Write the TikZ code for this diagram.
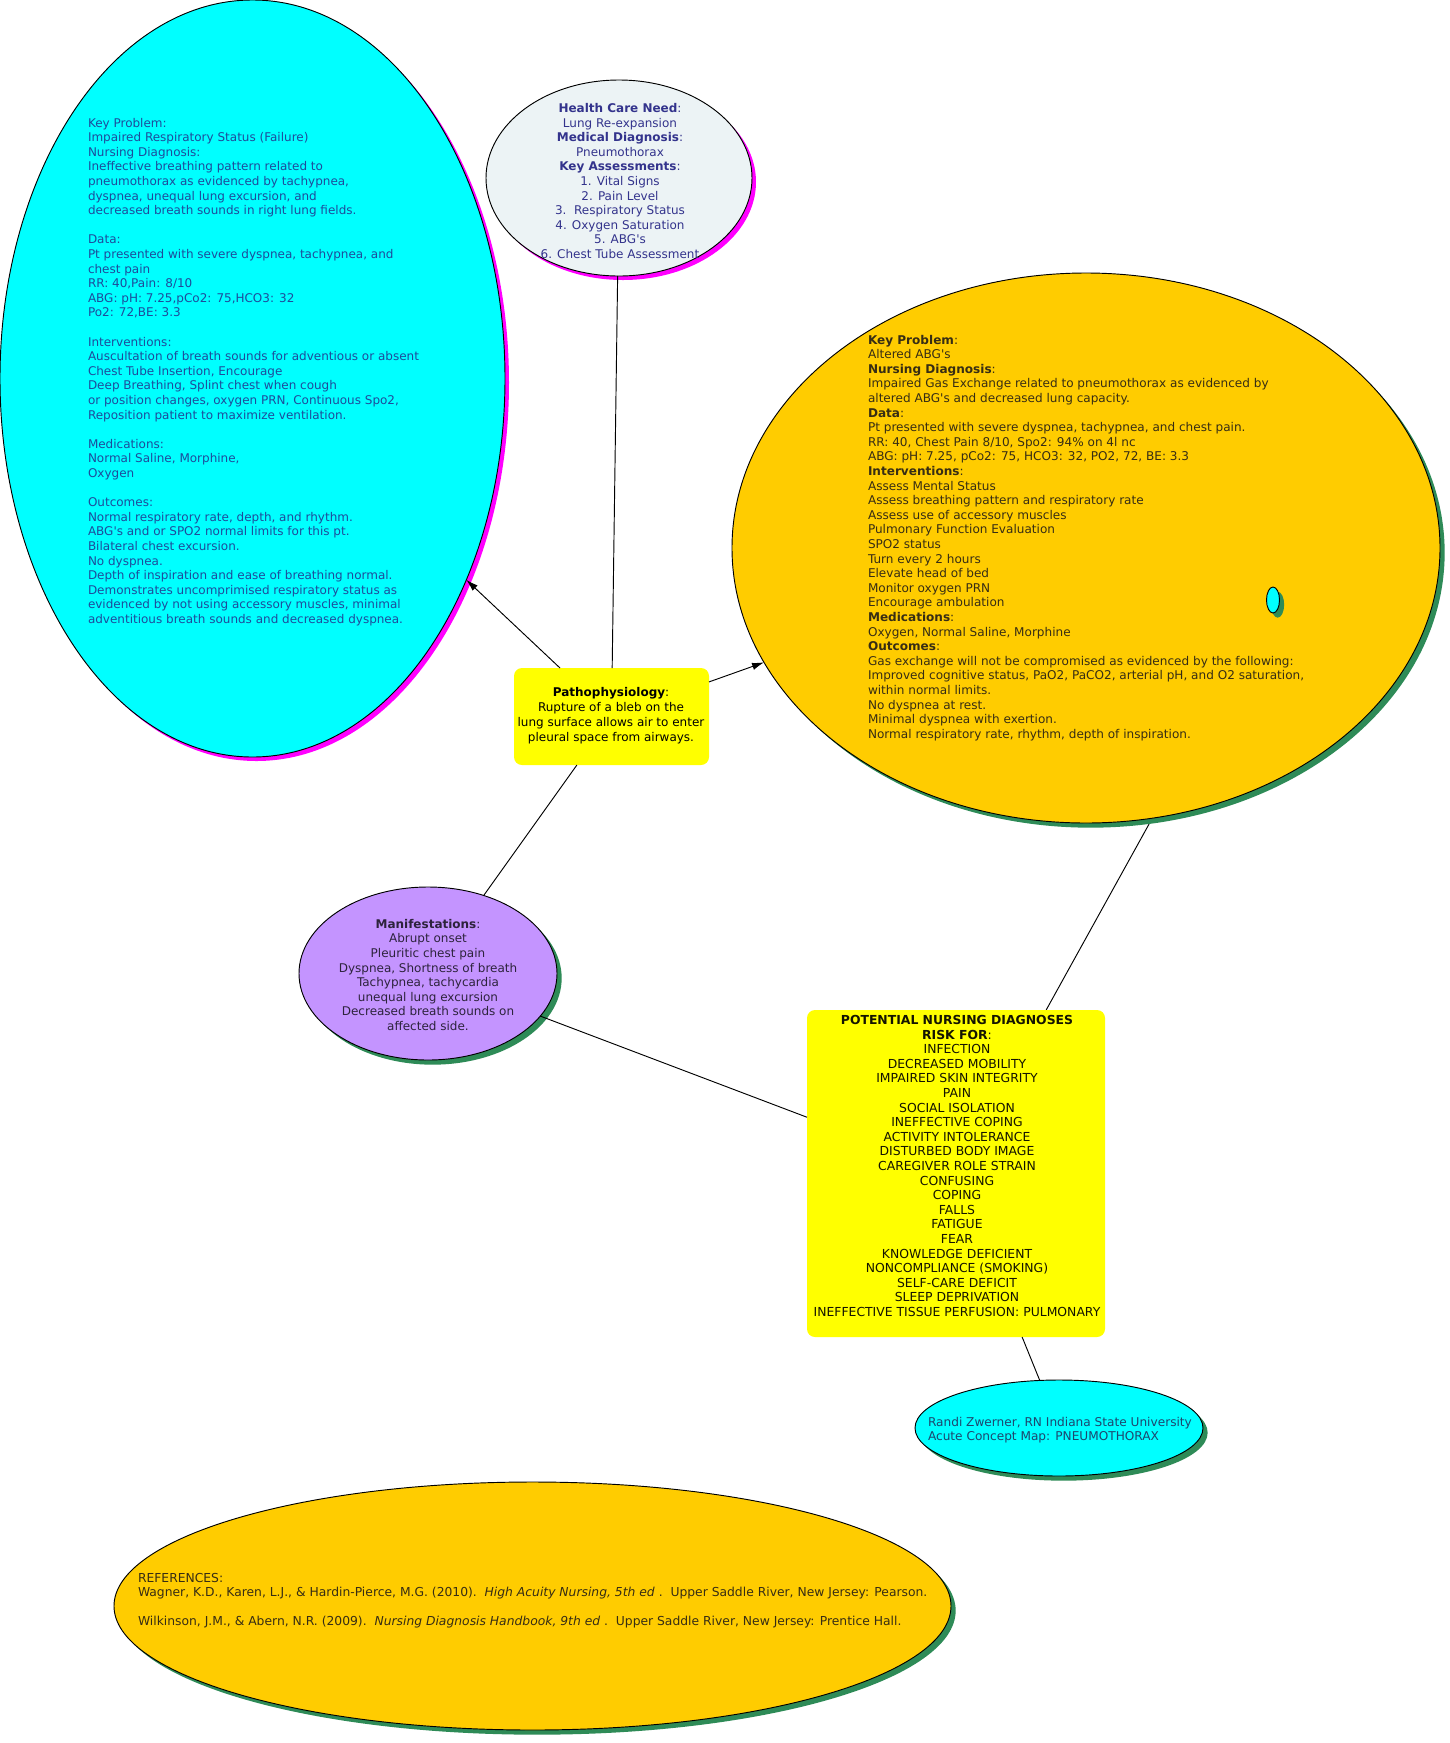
\documentclass[tikz,border=0pt]{standalone}
\usepackage{fontspec}
\newfontfamily\vfont{DejaVu Sans}
\usetikzlibrary{shapes.geometric,arrows.meta,shadows,backgrounds}

\definecolor{cyanfill}{RGB}{0,255,255}
\definecolor{hcfill}{RGB}{236,243,245}
\definecolor{orangefill}{RGB}{255,204,0}
\definecolor{purplefill}{RGB}{196,148,255}
\definecolor{yellowfill}{RGB}{255,255,0}
\definecolor{greenshadow}{RGB}{46,139,87}
\definecolor{magentafill}{RGB}{255,0,255}
\definecolor{cyantext}{RGB}{30,75,155}
\definecolor{hctext}{RGB}{51,51,140}
\definecolor{orangetext}{RGB}{55,45,20}
\definecolor{purpletext}{RGB}{45,35,60}
\definecolor{yellowtext}{RGB}{20,20,0}
\definecolor{authortext}{RGB}{30,70,110}

\pgfdeclarelayer{bottom}
\pgfsetlayers{bottom,background,main}

\tikzset{
  ell/.style={ellipse, draw=black, line width=0.7pt, inner sep=0pt, outer sep=0pt},
  rbox/.style={rectangle, rounded corners=6pt, fill=yellowfill, inner sep=0pt, outer sep=0pt},
  gshadow/.style={drop shadow={shadow xshift=3.5pt, shadow yshift=-3.5pt, fill=greenshadow, opacity=1}},
  mshadow/.style={drop shadow={shadow xshift=3pt, shadow yshift=-3pt, fill=magentafill, opacity=1}},
  txt/.style={inner sep=0pt, outer sep=0pt, font=\vfont\fontsize{9}{10.95}\selectfont},
  conn/.style={draw=black, line width=0.7pt},
  arr/.style={conn, -{Latex[length=9pt,width=5.5pt]}},
}

\begin{document}
\begin{tikzpicture}[x=0.75pt,y=-0.75pt]
\begin{pgfonlayer}{bottom}
\fill[white] (0,0) rectangle (1450,1743);
\end{pgfonlayer}
\useasboundingbox (0,0) rectangle (1450,1743);

% shapes
\node[ell, mshadow, fill=cyanfill, minimum width=505*0.75pt, minimum height=757*0.75pt] (keyprob) at (252.5,378.5) {};
\node[ell, mshadow, fill=hcfill, minimum width=266*0.75pt, minimum height=196*0.75pt] (hcn) at (619,178) {};
\node[ell, gshadow, fill=orangefill, minimum width=708*0.75pt, minimum height=550*0.75pt] (gas) at (1086,548) {};
\node[ell, gshadow, fill=cyanfill, minimum width=13*0.75pt, minimum height=26*0.75pt] (dot) at (1273,600) {};
\node[rbox, minimum width=195*0.75pt, minimum height=97*0.75pt] (patho) at (611.5,716.5) {};
\node[ell, gshadow, fill=purplefill, minimum width=258*0.75pt, minimum height=173*0.75pt] (manif) at (428,973.5) {};
\node[rbox, minimum width=298*0.75pt, minimum height=327*0.75pt] (pot) at (956,1173.5) {};
\node[ell, gshadow, fill=cyanfill, minimum width=288*0.75pt, minimum height=96*0.75pt] (author) at (1059,1428) {};
\node[ell, gshadow, fill=orangefill, minimum width=837*0.75pt, minimum height=248*0.75pt] (refs) at (532.5,1606) {};

% connectors
\begin{pgfonlayer}{background}
\draw[conn] (dot) -- (pot);
\end{pgfonlayer}
\draw[arr] (patho) -- (keyprob);
\draw[arr] (patho) -- (gas);
\draw[conn] (hcn) -- (patho);
\draw[conn] (patho) -- (manif);
\draw[conn] (manif) -- (pot);
\draw[conn] (pot) -- (author);

% texts
\node[txt, text=cyantext, anchor=north west, align=left] (keyprobtxt) at (88,118) {Key Problem:\\
Impaired Respiratory Status (Failure)\\
Nursing Diagnosis:\\
Ineffective breathing pattern related to\\
pneumothorax as evidenced by tachypnea,\\
dyspnea, unequal lung excursion, and\\
decreased breath sounds in right lung fields.\\[10.95pt]
Data:\\
Pt presented with severe dyspnea, tachypnea, and\\
chest pain\\
RR: 40,Pain: 8/10\\
ABG: pH: 7.25,pCo2: 75,HCO3: 32\\
Po2: 72,BE: 3.3\\[10.95pt]
Interventions:\\
Auscultation of breath sounds for adventious or absent\\
Chest Tube Insertion, Encourage\\
Deep Breathing, Splint chest when cough\\
or position changes, oxygen PRN, Continuous Spo2,\\
Reposition patient to maximize ventilation.\\[10.95pt]
Medications:\\
Normal Saline, Morphine,\\
Oxygen\\[10.95pt]
Outcomes:\\
Normal respiratory rate, depth, and rhythm.\\
ABG's and or SPO2 normal limits for this pt.\\
Bilateral chest excursion.\\
No dyspnea.\\
Depth of inspiration and ease of breathing normal.\\
Demonstrates uncomprimised respiratory status as\\
evidenced by not using accessory muscles, minimal\\
adventitious breath sounds and decreased dyspnea.};

\node[txt, text=hctext, align=center] (hcntxt) at (620,181) {\textbf{Health Care Need}:\\
Lung Re-expansion\\
\textbf{Medical Diagnosis}:\\
Pneumothorax\\
\textbf{Key Assessments}:\\
1. Vital Signs\\
2. Pain Level\\
3.\ \ Respiratory Status\\
4. Oxygen Saturation\\
5. ABG's\\
6. Chest Tube Assessment};

\node[txt, text=orangetext, anchor=north west, align=left, font=\vfont\fontsize{9.05}{10.95}\selectfont] (gastxt) at (868,335) {\textbf{Key Problem}:\\
Altered ABG's\\
\textbf{Nursing Diagnosis}:\\
Impaired Gas Exchange related to pneumothorax as evidenced by\\
altered ABG's and decreased lung capacity.\\
\textbf{Data}:\\
Pt presented with severe dyspnea, tachypnea, and chest pain.\\
RR: 40, Chest Pain 8/10, Spo2: 94\% on 4l nc\\
ABG: pH: 7.25, pCo2: 75, HCO3: 32, PO2, 72, BE: 3.3\\
\textbf{Interventions}:\\
Assess Mental Status\\
Assess breathing pattern and respiratory rate\\
Assess use of accessory muscles\\
Pulmonary Function Evaluation\\
SPO2 status\\
Turn every 2 hours\\
Elevate head of bed\\
Monitor oxygen PRN\\
Encourage ambulation\\
\textbf{Medications}:\\
Oxygen, Normal Saline, Morphine\\
\textbf{Outcomes}:\\
Gas exchange will not be compromised as evidenced by the following:\\
Improved cognitive status, PaO2, PaCO2, arterial pH, and O2 saturation,\\
within normal limits.\\
No dyspnea at rest.\\
Minimal dyspnea with exertion.\\
Normal respiratory rate, rhythm, depth of inspiration.};

\node[txt, text=black, align=center, font=\vfont\fontsize{9}{11.25}\selectfont] (pathotxt) at (611,716) {\textbf{Pathophysiology}:\\
Rupture of a bleb on the\\
lung surface allows air to enter\\
pleural space from airways.};

\node[txt, text=purpletext, align=center] (maniftxt) at (428,975) {\textbf{Manifestations}:\\
Abrupt onset\\
Pleuritic chest pain\\
Dyspnea, Shortness of breath\\
Tachypnea, tachycardia\\
unequal lung excursion\\
Decreased breath sounds on\\
affected side.};

\node[txt, text=yellowtext, align=center, font=\vfont\fontsize{9.3}{10.95}\selectfont] (pottxt) at (957,1166) {\textbf{POTENTIAL NURSING DIAGNOSES}\\
\textbf{RISK FOR}:\\
INFECTION\\
DECREASED MOBILITY\\
IMPAIRED SKIN INTEGRITY\\
PAIN\\
SOCIAL ISOLATION\\
INEFFECTIVE COPING\\
ACTIVITY INTOLERANCE\\
DISTURBED BODY IMAGE\\
CAREGIVER ROLE STRAIN\\
CONFUSING\\
COPING\\
FALLS\\
FATIGUE\\
FEAR\\
KNOWLEDGE DEFICIENT\\
NONCOMPLIANCE (SMOKING)\\
SELF-CARE DEFICIT\\
SLEEP DEPRIVATION\\
INEFFECTIVE TISSUE PERFUSION: PULMONARY};

\node[txt, text=authortext, anchor=north west, align=left, font=\vfont\fontsize{9.1}{10.95}\selectfont] (authortxt) at (928,1417) {Randi Zwerner, RN Indiana State University\\
Acute Concept Map: PNEUMOTHORAX};

\node[txt, text=orangetext, anchor=north west, align=left, font=\vfont\fontsize{9.25}{10.95}\selectfont] (refstxt) at (138,1573) {REFERENCES:\\
Wagner, K.D., Karen, L.J., \& Hardin-Pierce, M.G. (2010).\ \ \textit{High Acuity Nursing, 5th ed}\ .\ \ Upper Saddle River, New Jersey: Pearson.\\[10.95pt]
Wilkinson, J.M., \& Abern, N.R. (2009).\ \ \textit{Nursing Diagnosis Handbook, 9th ed}\ .\ \ Upper Saddle River, New Jersey: Prentice Hall.};
\end{tikzpicture}
\end{document}
